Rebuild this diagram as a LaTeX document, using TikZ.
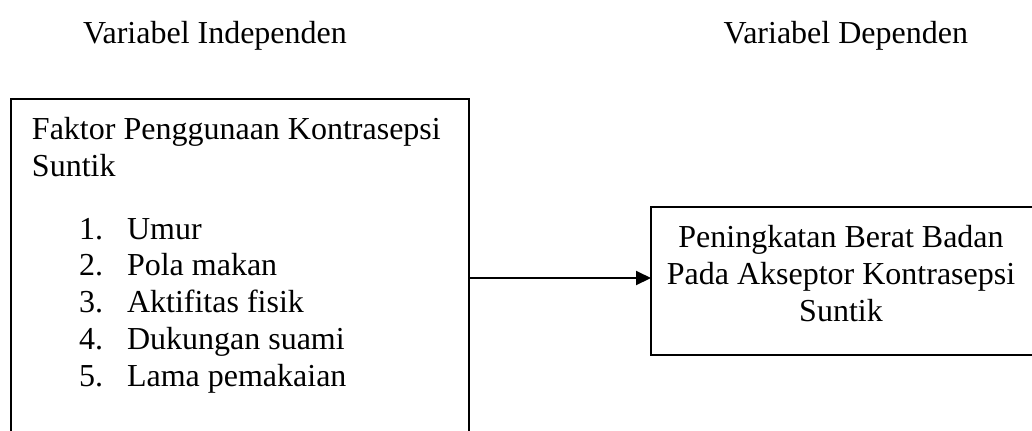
\documentclass[tikz,border=0pt]{standalone}
\usepackage{fontspec}
\setmainfont{Liberation Serif}
\usetikzlibrary{positioning,arrows.meta}

\begin{document}
\begin{tikzpicture}[x=0.5pt, y=-0.5pt, inner sep=0, outer sep=0,
  every node/.style={font=\fontsize{16}{18.5}\selectfont}]
  \useasboundingbox (0,0) rectangle (1032,430);
  \clip (0,0) rectangle (1032,430);

  % headings
  \node[anchor=base west] (indeplabel) at (83,43) {Variabel Independen};
  \node[anchor=base east] (deplabel) at (968,43) {Variabel Dependen};

  % independent block
  \node[rectangle, draw=black, line width=1pt,
    anchor=north west,
    minimum width = 229pt,
    minimum height = 179pt] (indep) at (11,99) {};
  \node[anchor=base west] (title1) at (32,139) {Faktor Penggunaan Kontrasepsi};
  \node[anchor=base west] (title2) at (32,176) {Suntik};
  \foreach \i/\factor in {1/Umur, 2/Pola makan, 3/Aktifitas fisik, 4/Dukungan suami, 5/Lama pemakaian} {
    \node[anchor=base west] (num\i) at (79,{239+(\i-1)*36.75}) {\i.};
    \node[anchor=base west] (factor\i) at (127,{239+(\i-1)*36.75}) {\factor};
  }

  % dependent block
  \node[rectangle, draw=black, line width=0.7pt,
    anchor=north west,
    minimum width = 195pt,
    minimum height = 74pt] (dep) at (651,207) {};
  \node[anchor=base] (dep1) at (841,247) {Peningkatan Berat Badan};
  \node[anchor=base] (dep2) at (841,284) {Pada Akseptor Kontrasepsi};
  \node[anchor=base] (dep3) at (841,321) {Suntik};

  \draw[line width=1pt, -{Triangle[length=7.5pt, width=7pt]}] (indep.east) -- (indep.east -| dep.west);
\end{tikzpicture}
\end{document}
